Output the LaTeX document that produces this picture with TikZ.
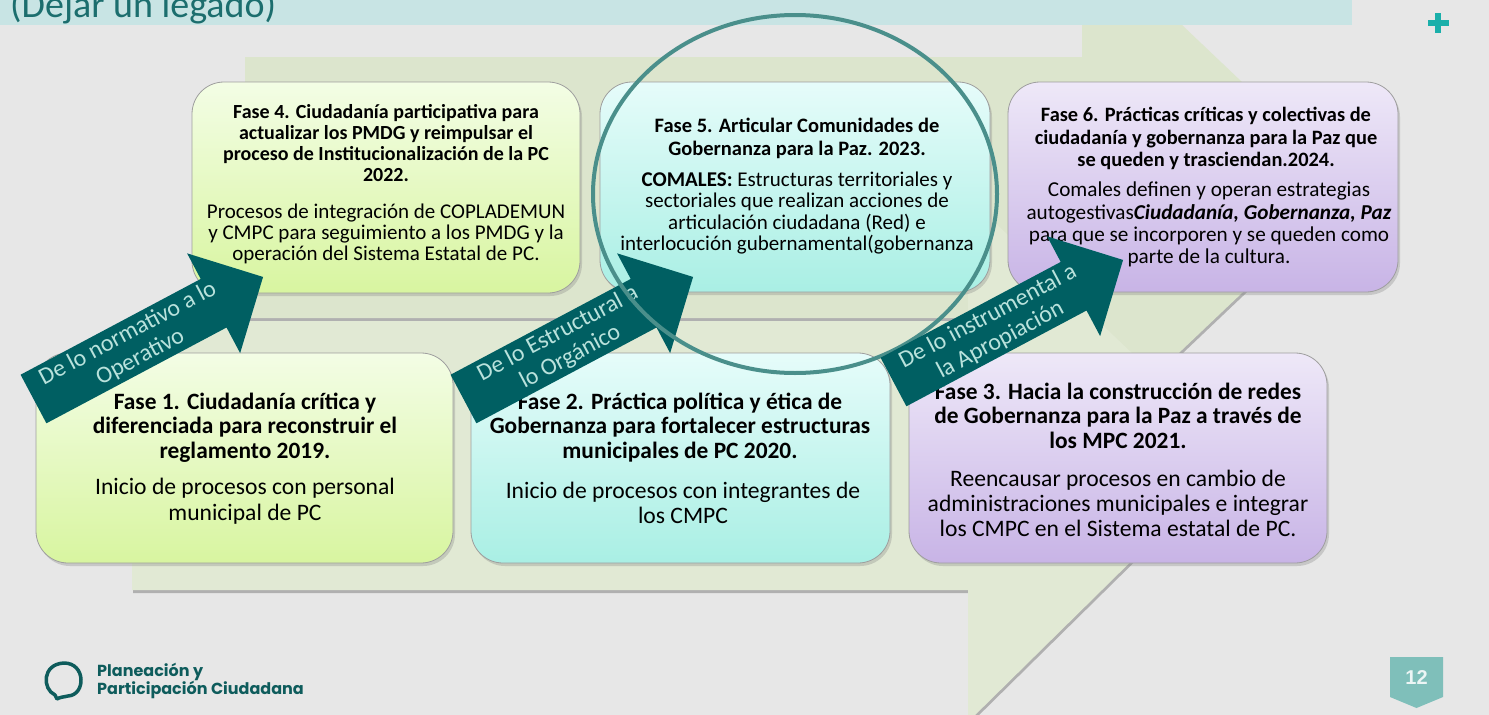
\documentclass[tikz,border=0pt]{standalone}
\usepackage{fontspec}
\setmainfont{Carlito}
\newfontfamily\logofont{Poppins}
\newfontfamily\numfont{Liberation Sans}
\usetikzlibrary{shadows}

\definecolor{pagegray}{HTML}{E7E7E7}
\definecolor{headband}{HTML}{C8E4E4}
\definecolor{headtext}{HTML}{1C6E6E}
\definecolor{bandgreen}{HTML}{DCE5CD}
\definecolor{bandlight}{HTML}{E1E9D4}
\definecolor{limetop}{HTML}{F3FDE5}
\definecolor{limebot}{HTML}{D8F5A0}
\definecolor{aquatop}{HTML}{E6FCFA}
\definecolor{aquabot}{HTML}{A9EFE4}
\definecolor{lilactop}{HTML}{EEE8F8}
\definecolor{lilacbot}{HTML}{C8B4E6}
\definecolor{arrowteal}{HTML}{005F62}
\definecolor{arrowtext}{HTML}{B9E2DC}
\definecolor{ringteal}{HTML}{4A8F8B}
\definecolor{logoteal}{HTML}{0E5C5C}
\definecolor{tabteal}{HTML}{7FBFBA}
\definecolor{plusteal}{HTML}{1AAFAA}

\tikzset{
  band/.style={drop shadow={shadow xshift=1pt, shadow yshift=-3pt, fill=black!45, opacity=.6}},
  phase box/.style={rounded corners=32pt, draw=black!38, line width=0.8pt,
    drop shadow={shadow xshift=2pt, shadow yshift=-3pt, opacity=.3}},
  small title/.style={align=center, inner sep=0pt, font=\fontsize{20}{20.7}\selectfont\bfseries},
  small body/.style={align=center, inner sep=0pt, font=\fontsize{21}{21.2}\selectfont},
  big title/.style={align=center, inner sep=0pt, font=\fontsize{23.4}{24.5}\selectfont\bfseries},
  big body/.style={align=center, inner sep=0pt, font=\fontsize{23.6}{25.5}\selectfont},
  turn arrow/.style={fill=arrowteal},
  arrow text/.style={align=center, inner sep=0pt, text=arrowtext, font=\fontsize{24}{26.5}\selectfont},
  ring/.style={draw=ringteal, line width=4pt}
}

\begin{document}
\begin{tikzpicture}[x=1pt,y=-1pt]
\useasboundingbox (0,0) rectangle (1489,715);
\clip (0,0) rectangle (1489,715);

% Page and the two green bands
\fill[pagegray] (0,0) rectangle (1489,715);
\fill[bandgreen,band] (245,57) -- (1082,57) -- (1082,-70) -- (1353,187.5) -- (1082,445) -- (1082,318) -- (245,318) -- cycle;
\fill[bandlight,band] (132,321) -- (968,321) -- (968,197) -- (1239,455) -- (968,722) -- (968,590) -- (132,590) -- cycle;

% Title band
\fill[headband] (0,0) rectangle (1352,25);
\node[anchor=base west, inner sep=0pt, text=headtext, font=\fontsize{38}{44}\selectfont] (title) at (10,17) {(Dejar un legado)};
\fill[plusteal] (1435,13) rectangle (1441,33);
\fill[plusteal] (1428,20) rectangle (1449,26);

% Upper row: phases 4, 5 and 6
\node[phase box, top color=limetop, bottom color=limebot, minimum width=388pt, minimum height=211pt] (f4) at (386,187.5) {};
\node[phase box, top color=aquatop, bottom color=aquabot, minimum width=390pt, minimum height=210pt] (f5) at (795,187) {};
\node[phase box, top color=lilactop, bottom color=lilacbot, minimum width=390pt, minimum height=210pt] (f6) at (1203,187) {};

\node[small title] (f4head) at (386,143) {Fase 4. Ciudadanía participativa para\\actualizar los PMDG y reimpulsar el\\proceso de Institucionalización de la PC\\2022.};
\node[small body] (f4text) at (386,234) {Procesos de integración de COPLADEMUN\\y CMPC para seguimiento a los PMDG y la\\operación del Sistema Estatal de PC.};

\node[small title, font=\fontsize{20.5}{22.5}\selectfont\bfseries] (f5head) at (797,138.5) {Fase 5. Articular Comunidades de\\Gobernanza para la Paz. 2023.};
\begin{scope}
\clip (600,82) rectangle (972,292);
\node[small body] (f5text) at (797,213) {\textbf{COMALES:} Estructuras territoriales y\\sectoriales que realizan acciones de\\articulación ciudadana (Red) e\\interlocución gubernamental(gobernanza};
\end{scope}

\node[small title, font=\fontsize{20.4}{22.5}\selectfont\bfseries] (f6head) at (1206,138.5) {Fase 6. Prácticas críticas y colectivas de\\ciudadanía y gobernanza para la Paz que\\se queden y trasciendan.2024.};
\node[small body, font=\fontsize{21.2}{22.3}\selectfont] (f6text) at (1209,224.5) {Comales definen y operan estrategias\\autogestivas\textbf{\textit{Ciudadanía, Gobernanza, Paz}}\\para que se incorporen y se queden como\\parte de la cultura.};

% Lower row: phases 1, 2 and 3
\node[phase box, top color=limetop, bottom color=limebot, minimum width=417pt, minimum height=210pt] (f1) at (244.5,458) {};
\node[phase box, top color=aquatop, bottom color=aquabot, minimum width=419pt, minimum height=210pt] (f2) at (680.5,458) {};
\node[phase box, top color=lilactop, bottom color=lilacbot, minimum width=418pt, minimum height=210pt] (f3) at (1118,458) {};

\node[big title] (f1head) at (245,427.5) {Fase 1. Ciudadanía crítica y\\diferenciada para reconstruir el\\reglamento 2019.};
\node[big body] (f1text) at (245,501) {Inicio de procesos con personal\\municipal de PC};

\node[big title] (f2head) at (680,427.5) {Fase 2. Práctica política y ética de\\Gobernanza para fortalecer estructuras\\municipales de PC 2020.};
\node[big body] (f2text) at (683,503) {Inicio de procesos con integrantes de\\los CMPC};

\node[big title] (f3head) at (1118,415.5) {Fase 3. Hacia la construcción de redes\\de Gobernanza para la Paz a través de\\los MPC 2021.};
\node[big body, font=\fontsize{23.6}{25}\selectfont] (f3text) at (1118,503) {Reencausar procesos en cambio de\\administraciones municipales e integrar\\los CMPC en el Sistema estatal de PC.};

% Transitions from the lower row to the upper row
\begin{scope}[shift={(33.5,399)},rotate=28]
\fill[turn arrow] (0,-27.5) -- (204,-27.5) -- (204,-56.5) -- (260,0) -- (204,56.5) -- (204,27.5) -- (0,27.5) -- cycle;
\node[arrow text,rotate=28] (normop) at (114,0) {De lo normativo a lo\\Operativo};
\end{scope}
\begin{scope}[shift={(463.5,399)},rotate=28]
\fill[turn arrow] (0,-27.5) -- (204,-27.5) -- (204,-56.5) -- (260,0) -- (204,56.5) -- (204,27.5) -- (0,27.5) -- cycle;
\node[arrow text,rotate=28] (estorg) at (114,0) {De lo Estructural a\\lo Orgánico};
\end{scope}

% Ring round phase 5
\draw[ring] (795,194) ellipse (202 and 179);

\begin{scope}[shift={(893.5,382)},rotate=28]
\fill[turn arrow] (0,-27.5) -- (204,-27.5) -- (204,-56.5) -- (260,0) -- (204,56.5) -- (204,27.5) -- (0,27.5) -- cycle;
\node[arrow text,rotate=28] (instap) at (114,0) {De lo instrumental a\\la Apropiación};
\end{scope}

% Logo and page number
\draw[logoteal, line width=3.5pt, line join=round] (55,695) .. controls (42,689) and (42,664) .. (64,663) .. controls (86,663) and (86,695) .. (68,696) .. controls (64,697) and (60,697) .. (57,699) -- cycle;
\node[anchor=west, inner sep=0pt, text=logoteal, font=\fontsize{16}{18}\selectfont\logofont\bfseries] (logoa) at (97,672) {Planeación y};
\node[anchor=west, inner sep=0pt, text=logoteal, font=\fontsize{16}{18}\selectfont\logofont\bfseries] (logob) at (97,690) {Participación Ciudadana};

\fill[tabteal] (1390,657) -- (1443,657) -- (1443,697) -- (1416.5,708) -- (1390,697) -- cycle;
\node[inner sep=0pt, text=white!85!tabteal, font=\fontsize{20}{22}\selectfont\numfont\bfseries] (pagenum) at (1416.5,678) {12};

\end{tikzpicture}
\end{document}
